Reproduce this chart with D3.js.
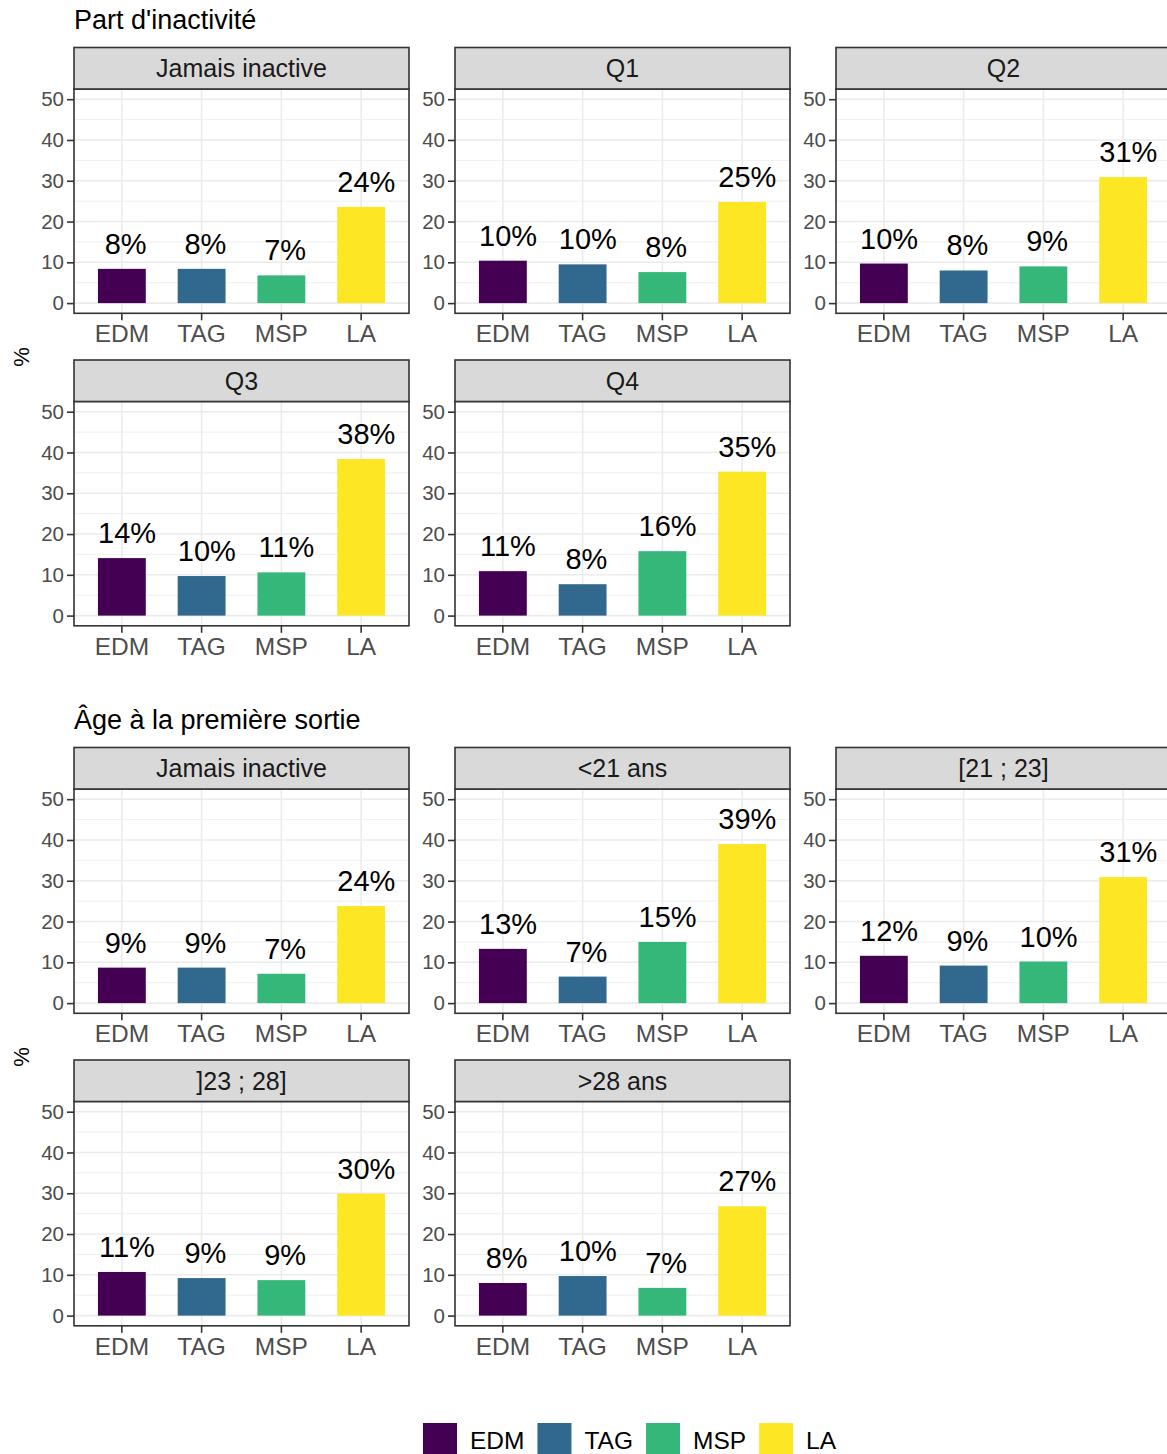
<!DOCTYPE html>
<html>
<head>
<meta charset="utf-8">
<script src="https://cdn.jsdelivr.net/npm/d3@7"></script>
<style>
  html, body { margin: 0; padding: 0; background: #fff; }
  svg { display: block; font-family: "Liberation Sans", Arial, Helvetica, sans-serif; }
</style>
</head>
<body>
<svg id="chart" width="1167" height="1454"></svg>
<script>
// ---------- DATA ----------
const categories = ["EDM", "TAG", "MSP", "LA"];
const yTicks = [0, 10, 20, 30, 40, 50];
const yMinorTicks = [5, 15, 25, 35, 45];

const inactiviteTitle = "Part d'inactivité";
const inactiviteFacets = ["Jamais inactive", "Q1", "Q2", "Q3", "Q4"];
const inactiviteValues = [
  [8.4, 8.4, 6.8, 23.6],
  [10.4, 9.5, 7.6, 24.8],
  [9.7, 8.0, 9.0, 30.9],
  [14.1, 9.7, 10.6, 38.4],
  [10.9, 7.7, 15.8, 35.3]
];

const ageTitle = "Âge à la première sortie";
const ageFacets = ["Jamais inactive", "<21 ans", "[21 ; 23]", "]23 ; 28]", ">28 ans"];
const ageValues = [
  [8.7, 8.7, 7.2, 23.8],
  [13.3, 6.5, 15.0, 39.0],
  [11.6, 9.2, 10.2, 30.9],
  [10.7, 9.2, 8.7, 29.9],
  [8.0, 9.7, 6.8, 26.8]
];

const yLabel = "%";
const palette = ["#440154", "#31688E", "#35B779", "#FDE725"];

// ---------- LAYOUT ----------
const svg = d3.select("#chart");
const color = d3.scaleOrdinal().domain(categories).range(palette);

const panelW = 335, colStep = 381, panelLeft0 = 74;
const stripTop0 = 47.5, rowStep = 312.5, stripH = 41.5, panelH = 224.3;
const sectionOffset = 700;

const sections = [
  { title: inactiviteTitle, facets: inactiviteFacets, values: inactiviteValues },
  { title: ageTitle, facets: ageFacets, values: ageValues }
];

sections.forEach((sec, si) => {
  const off = si * sectionOffset;
  const g = svg.append("g");

  g.append("text")
    .attr("x", 74).attr("y", 29 + off)
    .attr("font-size", 27).attr("fill", "#000")
    .text(sec.title);

  g.append("text")
    .attr("transform", `translate(28.5,${357 + off}) rotate(-90)`)
    .attr("text-anchor", "middle")
    .attr("font-size", 22).attr("fill", "#000")
    .text(yLabel);

  sec.facets.forEach((facet, fi) => {
    const col = fi % 3, row = Math.floor(fi / 3);
    const px = panelLeft0 + col * colStep;
    const sTop = stripTop0 + row * rowStep + off;
    const pTop = sTop + stripH;
    const pBot = pTop + panelH;

    const x = d3.scaleBand().domain(categories)
      .range([px, px + panelW]).paddingInner(0.4).paddingOuter(0.3);
    const y = d3.scaleLinear().domain([-2.5, 52.5]).range([pBot, pTop]);

    const pg = g.append("g");
    pg.append("rect").attr("x", px).attr("y", pTop).attr("width", panelW).attr("height", panelH).attr("fill", "#fff");

    // minor grid
    pg.selectAll(".ymin").data(yMinorTicks).join("line")
      .attr("x1", px).attr("x2", px + panelW)
      .attr("y1", d => y(d)).attr("y2", d => y(d))
      .attr("stroke", "#ebebeb").attr("stroke-width", 0.8);
    // major grid
    pg.selectAll(".ymaj").data(yTicks).join("line")
      .attr("x1", px).attr("x2", px + panelW)
      .attr("y1", d => y(d)).attr("y2", d => y(d))
      .attr("stroke", "#ebebeb").attr("stroke-width", 1.6);
    pg.selectAll(".xmaj").data(categories).join("line")
      .attr("x1", d => x(d) + x.bandwidth() / 2).attr("x2", d => x(d) + x.bandwidth() / 2)
      .attr("y1", pTop).attr("y2", pBot)
      .attr("stroke", "#ebebeb").attr("stroke-width", 1.6);

    const vals = sec.values[fi];
    const data = categories.map((c, i) => ({ c, v: vals[i] }));

    pg.selectAll(".bar").data(data).join("rect")
      .attr("x", d => x(d.c)).attr("width", x.bandwidth())
      .attr("y", d => y(d.v)).attr("height", d => y(0) - y(d.v))
      .attr("fill", d => color(d.c));

    pg.selectAll(".lbl").data(data).join("text")
      .attr("x", d => x(d.c) + x.bandwidth() / 2)
      .attr("y", d => y(d.v) - 15)
      .attr("text-anchor", "middle")
      .attr("font-size", 29).attr("fill", "#000")
      .text(d => Math.round(d.v) + "%")
      .each(function () {
        const w = this.getComputedTextLength();
        d3.select(this).attr("dx", 0.09 * w);
      });

    // panel border
    pg.append("rect").attr("x", px).attr("y", pTop).attr("width", panelW).attr("height", panelH)
      .attr("fill", "none").attr("stroke", "#333333").attr("stroke-width", 1.6);

    // strip
    pg.append("rect").attr("x", px).attr("y", sTop).attr("width", panelW).attr("height", stripH)
      .attr("fill", "#d9d9d9").attr("stroke", "#333333").attr("stroke-width", 1.6);
    pg.append("text")
      .attr("x", px + panelW / 2).attr("y", sTop + stripH / 2 + 0.36 * 25)
      .attr("text-anchor", "middle").attr("font-size", 25).attr("fill", "#1a1a1a")
      .text(facet);

    // axes
    const ya = pg.append("g").attr("transform", `translate(${px},0)`)
      .call(d3.axisLeft(y).tickValues(yTicks).tickSize(7).tickPadding(3));
    ya.select(".domain").remove();
    ya.selectAll(".tick line").attr("stroke", "#333333").attr("stroke-width", 1.6);
    ya.selectAll(".tick text").attr("font-size", 20.5).attr("fill", "#4d4d4d")
      .attr("font-family", "Liberation Sans, Arial, sans-serif");

    const xa = pg.append("g").attr("transform", `translate(0,${pBot})`)
      .call(d3.axisBottom(x).tickSize(7).tickPadding(4.5));
    xa.select(".domain").remove();
    xa.selectAll(".tick line").attr("stroke", "#333333").attr("stroke-width", 1.6);
    xa.selectAll(".tick text").attr("font-size", 24.5).attr("fill", "#4d4d4d")
      .attr("font-family", "Liberation Sans, Arial, sans-serif");
  });
});

// ---------- LEGEND ----------
const lg = svg.append("g");
let lx = 423;
categories.forEach((c) => {
  lg.append("rect").attr("x", lx).attr("y", 1423).attr("width", 34).attr("height", 34).attr("fill", color(c));
  const t = lg.append("text").attr("x", lx + 47).attr("y", 1449)
    .attr("font-size", 24.5).attr("fill", "#000").text(c);
  const w = t.node().getComputedTextLength();
  lx = lx + 47 + w + 13;
});
</script>
</body>
</html>
